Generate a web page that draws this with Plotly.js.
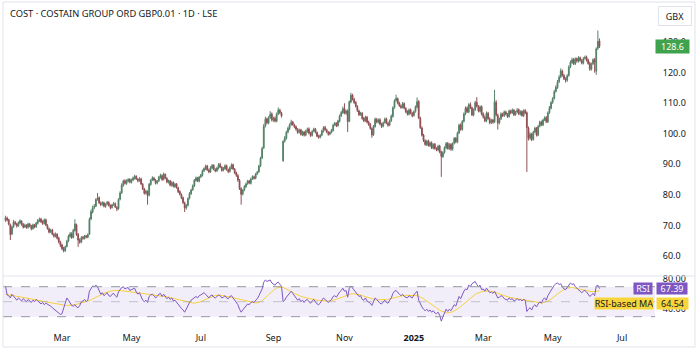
<!DOCTYPE html>
<html>
<head>
<meta charset="utf-8">
<script src="https://cdn.plot.ly/plotly-3.0.1.min.js"></script>
<style>html,body{margin:0;padding:0;background:#fff;}#chart{width:700px;height:353px;}</style>
</head>
<body>
<div id="chart"></div>
<script>
// ---- data (daily bars, one per weekday starting at startDate) ----
const startDate = "2024-01-12";
const opens = [
71.6,72.4,71.9,70.2,67.2,69.6,71.0,70.5,69.9,70.8,71.4,70.3,69.5,70.0,
69.4,70.4,69.9,69.0,70.1,69.6,70.7,71.5,72.1,71.3,70.7,71.9,70.0,68.9,67.9,68.5,67.0,66.4,67.1,65.9,64.5,
63.6,62.5,61.7,63.1,64.9,66.4,67.3,66.1,68.3,70.2,67.1,65.3,64.6,66.1,65.7,66.6,66.1,67.1,72.1,74.4,75.9,
76.3,78.6,79.1,77.3,76.9,77.4,76.2,77.0,77.5,76.6,75.9,76.8,77.1,75.9,75.5,78.6,80.7,83.1,84.6,83.7,84.5,85.1,
84.1,84.9,85.4,86.1,85.1,84.7,85.2,83.5,81.9,80.6,81.1,79.9,83.4,84.9,85.5,84.8,83.9,84.6,85.7,86.3,85.1,86.7,85.4,
84.1,84.6,83.1,84.1,82.7,83.6,82.3,81.1,80.1,79.1,77.4,75.7,76.6,78.9,80.4,81.7,82.9,84.7,85.6,84.5,
85.9,86.4,87.9,88.5,89.5,88.1,87.6,88.8,89.7,88.3,87.9,88.7,90.0,89.1,88.1,88.6,89.6,88.2,87.7,88.8,89.9,88.4,87.3,
86.3,84.7,82.1,80.3,81.6,82.7,83.7,84.6,83.8,85.3,85.9,85.5,86.9,87.6,89.5,92.1,95.4,102.6,104.9,103.5,105.3,106.5,
104.4,105.1,104.1,106.6,107.7,106.8,91.2,97.6,98.5,100.6,101.7,103.0,103.9,102.9,102.3,101.4,100.5,101.3,99.7,100.6,99.5,
100.7,101.6,100.1,99.5,100.9,101.5,100.4,99.3,98.9,99.6,100.8,102.1,101.3,100.5,99.9,100.5,101.1,102.9,103.4,102.7,104.1,105.9,106.9,
108.3,106.7,107.4,104.1,110.4,112.7,111.3,110.3,108.9,107.5,106.3,106.7,105.1,104.3,105.4,103.9,103.1,101.7,99.7,102.4,104.7,
103.8,104.6,103.1,102.5,103.7,104.9,103.4,102.9,104.3,105.7,108.6,110.9,111.5,110.1,109.1,108.7,109.9,108.3,107.3,106.4,107.9,106.7,
106.0,107.3,108.7,110.6,105.1,101.9,99.6,97.7,96.4,97.7,96.1,97.1,95.3,96.6,95.1,94.7,96.0,94.1,92.5,93.9,95.4,96.9,95.1,
96.5,94.9,96.9,98.6,97.3,100.3,102.9,101.4,104.1,106.6,108.5,107.1,109.6,108.5,106.1,107.9,110.3,108.9,107.4,108.9,
106.5,105.4,104.3,106.7,104.9,103.7,104.5,103.9,110.3,106.1,103.6,104.9,106.4,106.0,107.1,106.3,105.7,107.4,106.9,107.7,106.3,
107.1,107.9,106.4,107.3,105.9,107.6,106.9,101.9,98.6,99.9,98.1,100.6,101.9,99.5,102.5,103.9,102.9,104.6,105.3,103.9,106.9,108.4,
110.3,111.6,113.9,115.1,117.1,118.6,120.5,119.1,117.9,117.5,119.1,121.9,123.3,124.3,122.9,124.6,123.7,124.9,123.9,123.1,124.7,125.1,
124.2,123.1,121.1,122.9,124.3,120.5,128.0,130.4
];
const highs = [
73.2,72.9,72.2,70.6,69.9,71.8,71.5,70.9,71.3,72.0,71.7,70.8,70.6,70.4,
70.9,70.8,70.2,70.6,70.5,71.2,72.1,72.6,72.5,71.7,72.3,72.2,70.4,69.3,68.9,68.9,67.6,67.7,67.5,66.3,65.0,
64.0,63.0,63.4,65.3,67.0,67.9,67.8,68.9,72.0,70.6,67.5,65.8,66.5,66.6,66.9,66.9,67.4,72.6,75.2,76.5,77.0,
78.9,80.6,79.5,77.8,77.9,77.8,77.3,78.0,77.9,76.9,77.1,77.7,77.5,76.3,78.9,81.2,83.8,85.0,85.1,85.1,85.5,85.4,
85.3,86.0,86.6,86.4,85.5,85.8,85.6,83.9,82.3,81.7,81.5,83.9,85.2,86.1,85.9,85.2,84.9,86.2,86.9,86.7,87.3,87.0,85.8,
85.0,84.9,84.5,84.4,83.9,83.9,82.7,81.5,80.5,79.4,77.8,77.0,79.2,80.9,82.0,83.4,85.2,86.0,85.9,86.2,
86.9,88.3,89.0,89.9,89.8,88.6,89.4,90.1,90.0,88.7,89.2,90.4,90.5,89.4,89.1,90.0,89.9,88.6,89.3,90.3,90.2,88.8,87.6,
86.8,85.2,82.5,81.9,83.2,84.0,84.9,84.9,85.6,86.4,86.3,87.2,87.9,89.9,92.5,95.8,103.2,105.6,105.3,105.8,107.4,107.0,
105.6,105.7,107.0,108.6,108.2,107.2,97.9,99.3,101.0,102.3,103.4,104.6,104.2,103.3,102.7,101.9,101.7,101.6,101.0,100.9,101.3,
102.0,102.1,100.6,101.2,102.0,101.9,100.8,99.7,99.9,101.4,102.5,102.6,101.7,100.9,100.8,101.6,103.3,103.9,103.8,104.6,106.3,107.5,108.9,
110.0,107.9,108.0,110.9,113.4,113.1,111.8,110.7,109.4,107.9,107.2,107.1,105.5,105.9,105.8,104.3,103.5,102.1,102.9,105.3,105.2,
105.0,105.1,103.6,104.0,105.3,105.3,103.9,104.7,106.3,109.0,111.3,112.8,111.9,110.5,109.6,110.4,110.3,108.7,107.7,108.3,108.3,107.2,
107.7,109.3,111.9,111.0,105.6,102.4,100.0,98.2,98.0,98.1,97.5,97.5,96.9,97.0,95.6,96.4,96.4,94.5,94.3,95.9,97.3,97.3,96.9,
97.0,97.2,98.9,98.9,100.7,103.3,103.4,104.5,107.0,109.0,108.9,110.0,110.3,108.9,108.3,110.8,112.0,109.4,109.3,109.3,
107.0,106.0,107.3,107.2,105.4,104.9,104.9,114.4,111.0,106.6,105.3,107.0,106.9,107.6,107.6,106.8,107.9,107.9,108.3,108.1,107.5,
108.4,108.3,107.7,107.7,108.0,108.1,107.3,102.4,100.5,100.3,101.0,102.3,102.2,102.9,104.3,104.3,104.9,105.7,105.8,107.3,109.1,110.7,
112.0,114.4,115.9,117.6,119.2,121.4,121.0,119.6,118.5,119.5,122.4,124.0,124.9,124.8,125.0,125.0,125.4,125.3,124.5,125.1,125.6,125.6,
124.6,123.6,123.3,124.7,124.8,128.3,133.8,131.2
];
const lows = [
71.2,71.3,70.0,65.2,66.8,69.2,70.1,69.3,69.6,70.5,69.9,69.0,69.2,68.9,
69.0,69.4,68.4,68.6,69.1,69.2,70.3,71.1,70.8,70.2,70.3,69.8,68.6,67.4,67.5,66.8,66.0,66.1,65.4,64.1,62.9,
61.9,61.2,61.3,62.8,64.5,66.0,65.6,65.8,68.0,66.6,63.0,64.0,64.2,65.3,65.4,65.8,65.8,66.9,71.7,73.9,75.3,
76.0,78.1,77.0,76.3,76.5,75.9,75.8,76.6,76.2,75.3,75.5,76.4,75.7,74.7,75.1,78.2,80.3,82.7,83.4,83.3,84.1,83.8,
83.7,84.5,85.0,84.9,84.1,84.3,83.2,81.6,80.1,80.1,76.8,79.5,83.0,84.5,84.5,83.4,83.5,84.2,85.3,84.6,84.7,85.1,83.8,
83.7,82.8,82.7,82.4,82.3,82.0,80.6,79.8,78.6,77.0,74.4,75.2,76.2,78.5,80.0,81.3,82.6,84.3,84.2,84.1,
85.5,86.0,87.5,88.1,87.8,87.1,87.2,88.4,88.0,87.4,87.5,88.3,88.8,87.6,87.7,88.2,87.9,87.1,87.3,88.4,88.1,86.8,85.9,
84.3,81.6,76.8,79.8,81.2,82.3,83.3,83.5,83.4,84.9,85.0,85.1,86.5,87.2,89.1,91.7,95.0,102.1,103.1,103.1,104.9,104.0,
103.9,103.7,103.8,106.1,106.4,105.3,90.8,97.1,98.1,100.1,101.2,102.6,102.6,101.8,101.0,100.0,100.1,99.4,99.3,99.1,99.2,
100.3,99.8,99.0,99.1,100.5,100.1,98.9,98.4,98.5,99.2,100.4,101.0,100.2,99.4,99.5,100.1,100.7,102.5,102.2,102.3,103.7,105.5,106.5,
106.4,106.2,100.6,103.8,110.0,110.9,109.8,108.6,107.1,105.8,105.9,104.6,103.8,103.9,103.4,102.6,101.3,98.7,99.3,102.0,103.4,
103.4,102.8,101.9,102.1,103.3,103.1,102.3,102.5,103.9,105.3,108.2,110.5,109.6,108.8,108.2,108.3,108.0,106.8,106.0,106.0,106.4,105.4,
105.6,106.9,108.3,104.8,101.6,99.1,97.3,96.1,96.0,95.8,95.7,95.0,94.9,94.8,94.3,94.3,93.6,85.9,92.1,93.5,95.0,94.8,94.7,
94.4,94.5,96.5,96.9,96.9,99.9,101.0,101.0,103.7,106.1,106.8,106.7,108.1,105.8,105.7,107.5,108.6,107.0,107.0,106.0,
105.0,103.8,103.8,104.6,103.1,103.2,103.3,103.5,105.7,101.4,103.1,104.5,105.5,105.5,106.0,105.2,105.3,106.4,106.5,105.8,105.9,
106.7,106.1,106.0,105.6,105.5,106.4,87.5,97.8,98.0,97.6,97.8,100.2,99.1,99.2,102.1,102.5,102.5,104.2,103.5,103.5,106.5,108.0,
109.8,111.2,113.5,114.7,116.6,118.2,118.7,117.6,116.8,117.0,118.7,121.5,122.9,122.5,122.5,123.3,123.3,123.6,122.7,122.7,124.3,123.6,
122.6,120.6,120.7,122.5,120.0,119.3,127.4,128.1
];
const closes = [
72.5,71.8,70.4,67.0,69.5,71.2,70.6,69.8,70.9,71.5,70.2,69.4,70.1,69.3,
70.5,69.8,68.9,70.2,69.5,70.8,71.6,72.0,71.2,70.6,71.8,70.1,69.0,67.8,68.4,67.1,66.5,67.2,65.8,64.6,63.5,
62.4,61.8,63.0,64.8,66.5,67.2,66.0,68.4,70.5,67.0,65.2,64.5,66.0,65.8,66.5,66.2,67.0,72.0,74.5,75.8,76.2,
78.5,79.0,77.4,76.8,77.5,76.3,76.9,77.6,76.5,75.8,76.7,77.2,76.0,75.4,78.5,80.6,83.2,84.5,83.8,84.6,85.0,84.2,
84.8,85.5,86.0,85.2,84.6,85.3,83.6,82.0,80.5,81.2,79.8,83.5,84.8,85.6,84.9,83.8,84.5,85.8,86.4,85.0,86.8,85.5,84.2,
84.5,83.2,84.0,82.8,83.5,82.4,81.0,80.2,79.0,77.5,75.8,76.5,78.8,80.5,81.6,83.0,84.8,85.5,84.6,85.8,
86.5,87.8,88.6,89.4,88.2,87.5,88.9,89.6,88.4,87.8,88.8,89.9,89.2,88.0,88.7,89.5,88.3,87.6,88.9,89.8,88.5,87.2,86.4,
84.8,82.0,80.2,81.5,82.8,83.6,84.5,83.9,85.2,86.0,85.4,86.8,87.5,89.4,92.0,95.2,102.5,104.8,103.6,105.2,106.4,104.5,
105.0,104.2,106.5,107.8,106.9,105.8,97.5,98.6,100.5,101.8,102.9,103.8,103.0,102.2,101.5,100.4,101.2,99.8,100.5,99.6,100.8,
101.5,100.2,99.4,100.8,101.6,100.5,99.2,98.8,99.5,100.9,102.0,101.4,100.6,99.8,100.4,101.2,102.8,103.5,102.6,104.2,105.8,107.0,108.2,
106.8,107.5,104.0,110.5,112.6,111.4,110.2,109.0,107.6,106.2,106.8,105.0,104.2,105.5,103.8,103.0,101.8,99.6,102.5,104.8,103.9,
104.5,103.2,102.4,103.6,104.8,103.5,102.8,104.2,105.8,108.5,110.8,111.6,110.0,109.2,108.6,109.8,108.4,107.2,106.5,107.8,106.8,105.9,
107.2,108.8,110.5,105.2,102.0,99.5,97.8,96.5,97.6,96.2,97.0,95.4,96.5,95.2,94.8,95.9,94.0,92.6,93.8,95.5,96.8,95.2,96.4,
95.0,96.8,98.5,97.4,100.2,102.8,101.5,104.0,106.5,108.4,107.2,109.5,108.6,106.2,107.8,110.2,109.0,107.5,108.8,106.4,
105.5,104.2,106.8,105.0,103.6,104.4,103.8,110.5,106.2,103.5,104.8,106.5,105.9,107.2,106.4,105.6,107.5,106.8,107.8,106.2,107.0,
107.8,106.5,107.2,106.0,107.5,106.8,102.0,98.5,99.8,98.2,100.5,101.8,99.6,102.4,103.8,103.0,104.5,105.2,104.0,106.8,108.5,110.2,
111.5,113.8,115.2,117.0,118.5,120.6,119.2,118.0,117.6,119.0,121.8,123.4,124.2,123.0,124.5,123.8,124.8,124.0,123.2,124.6,125.0,124.1,
123.0,121.2,122.8,124.2,123.5,127.8,130.2,128.6
];
const rsi = [
71,59,58,55,60,57,54,52,55,53,51,54,52,50,
53,51,49,52,50,53,51,48,47,49,46,48,47,45,44,42,40,38,36,35,33,
34,42,50,55,52,48,45,44,46,43,42,45,50,51,53,50,52,64,68,71,70,
72,70,64,60,62,58,60,62,58,57,60,61,58,56,63,66,69,70,67,68,69,65,
66,67,68,63,60,62,56,52,50,52,49,57,59,60,58,55,57,60,61,57,60,57,54,
56,53,55,51,52,49,46,44,41,39,36,40,45,49,52,54,56,57,55,58,
59,61,62,60,57,55,58,59,56,55,57,59,58,55,56,58,55,54,57,58,55,52,50,
46,40,36,39,42,45,47,46,49,50,49,52,54,58,63,67,76,79,77,78,79,75,
74,72,75,76,73,71,50,52,56,59,62,64,61,58,55,52,54,50,52,49,52,
53,50,48,51,53,50,47,46,48,52,55,53,51,49,51,53,57,58,56,60,63,65,68,
64,65,56,68,71,68,65,62,60,57,58,53,52,55,51,50,48,45,50,55,53,
50,48,47,50,52,49,48,52,55,61,64,65,62,60,58,60,57,56,55,58,56,55,
59,62,64,52,47,43,40,38,40,37,39,36,38,35,34,36,32,24,30,36,40,37,40,
38,42,46,44,52,57,54,60,64,67,66,72,70,74,76,77,73,70,72,66,
67,64,68,65,62,63,61,64,60,55,56,58,57,54,53,52,55,53,54,51,52,
54,52,53,51,53,52,37,40,42,39,44,46,43,47,50,48,53,55,52,58,62,66,
70,72,74,75,73,74,70,67,66,69,72,75,73,74,70,68,66,63,62,64,65,63,
60,57,59,61,58,71,72,67.39
];
const rsiMa = [
60,59.6,59.2,58.8,58.3,57.8,57.2,56.6,56,55.5,55,54.6,54.2,53.8,
53.5,53.2,52.9,52.6,52.3,52,51.7,51.3,50.9,50.5,50.1,49.7,49.3,48.9,48.5,48,47.6,47.2,46.8,46.4,46,
45.6,45.3,45.1,45,45,45.1,45.3,45.6,46,46.5,47,47.5,48,48.6,49.2,49.8,50.5,51.4,52.5,53.7,55,
56.2,57.4,58.5,59.5,60.4,61.2,62,62.8,63.5,64,64.5,64.8,65,65,64.9,64.8,64.6,64.4,64.2,64,63.7,63.4,
63.1,62.8,62.5,62.2,61.9,61.6,61.2,60.8,60.4,60,59.6,59.3,59,58.8,58.6,58.4,58.2,58,57.8,57.5,57.2,56.8,56.4,
56,55.5,55,54.4,53.8,53.2,52.6,52,51.4,50.8,50.2,49.6,49.1,48.7,48.4,48.2,48.2,48.4,48.8,49.4,
50.2,51.2,52.3,53.4,54.5,55.5,56.4,57.2,57.8,58.2,58.5,58.6,58.6,58.4,58.1,57.7,57.2,56.7,56.2,55.7,55.2,54.7,54.2,
53.6,53,52.4,51.8,51.2,50.6,50.1,49.6,49.2,48.8,48.5,48.4,48.6,49.2,50.2,51.5,53.2,55.2,57.4,59.6,61.8,63.8,
65.5,67,68.2,69,69.5,69.8,69.2,68.2,67,65.8,64.6,63.4,62.2,61,59.8,58.8,57.9,57.1,56.4,55.8,55.2,
54.7,54.2,53.7,53.2,52.8,52.4,52,51.7,51.4,51.1,51,50.9,50.9,51,51.2,51.5,52,52.6,53.3,54.1,55,56,57,
58,58.8,59.4,60,60.4,60.6,60.6,60.4,60,59.4,58.7,58,57.2,56.4,55.6,54.9,54.2,53.6,53.1,52.7,52.5,
52.4,52.3,52.3,52.4,52.6,52.9,53.3,53.8,54.4,55.1,55.8,56.5,57.1,57.6,58,58.3,58.5,58.6,58.6,58.5,58.4,58.3,
58.2,58.1,58,57.4,56.5,55.3,53.9,52.4,50.8,49.1,47.4,45.7,44.1,42.6,41.2,39.9,38.7,37.6,36.6,35.8,35.3,35.2,35.4,
35.9,36.6,37.6,38.8,40.2,41.8,43.5,45.3,47.2,49.2,51.2,53.2,55,56.8,58.4,59.8,61,62,62.8,63.4,
63.9,64.2,64.4,64.4,64.2,63.8,63.3,62.7,62,61.2,60.3,59.4,58.5,57.7,57,56.4,55.9,55.5,55.1,54.8,54.5,
54.2,53.9,53.6,53.3,53,52.7,52.2,51.6,51,50.4,49.8,49.3,48.9,48.6,48.4,48.4,48.6,49.1,49.8,50.8,52,53.4,
55,56.8,58.6,60.4,62.1,63.7,65.1,66.3,67.3,68.1,68.6,68.9,68.9,68.7,68.3,67.8,67.2,66.6,66,65.4,64.8,64.3,
63.9,63.6,63.4,63.4,63.5,63.9,64.3,64.54
];
const tickDates = ["2024-03-01","2024-05-01","2024-07-01","2024-09-02","2024-11-01","2025-01-01","2025-03-03","2025-05-01","2025-07-01"];
const tickLabels = ["Mar","May","Jul","Sep","Nov","<b>2025</b>","Mar","May","Jul"];
const priceTicks = [60,70,80,90,100,110,120,130];
const rsiTicks = [40,80];
const titleText = "COST · COSTAIN GROUP ORD GBP0.01 · 1D · LSE";

// ---- build weekday dates ----
function weekdays(start, n) {
  const out = [];
  const d = new Date(start + "T00:00:00Z");
  while (out.length < n) {
    const w = d.getUTCDay();
    if (w !== 0 && w !== 6) out.push(d.toISOString().slice(0, 10));
    d.setUTCDate(d.getUTCDate() + 1);
  }
  return out;
}
const dates = weekdays(startDate, closes.length);
const lastClose = closes[closes.length - 1];
const lastRsi = rsi[rsi.length - 1];
const lastMa = rsiMa[rsiMa.length - 1];

// pixel helpers for the 700x353 page (plot area x 3..655, y 2..325)
const PL = 3, PR = 655, PT = 2, PB = 325;
const px = x => (x - PL) / (PR - PL);
const py = y => (PB - y) / (PB - PT);
const FONT = "Noto Sans, DejaVu Sans, sans-serif";
const TXT = "#131722";

const traces = [
  {
    type: "candlestick", x: dates, open: opens, high: highs, low: lows, close: closes,
    xaxis: "x", yaxis: "y",
    increasing: { fillcolor: "#245c3b", line: { color: "#56836a", width: 1 } },
    decreasing: { fillcolor: "#7d1a1f", line: { color: "#935055", width: 1 } },
    hoverinfo: "skip", showlegend: false
  },
  {
    type: "scatter", mode: "lines", x: dates, y: rsiMa, xaxis: "x", yaxis: "y2",
    line: { color: "#f7d13a", width: 1 }, hoverinfo: "skip", showlegend: false
  },
  {
    type: "scatter", mode: "lines", x: dates, y: rsi, xaxis: "x", yaxis: "y2",
    line: { color: "#7e57c2", width: 1 }, hoverinfo: "skip", showlegend: false
  }
];

const layout = {
  width: 700, height: 353,
  margin: { l: PL, r: 700 - PR, t: PT, b: 353 - PB },
  paper_bgcolor: "#ffffff", plot_bgcolor: "#ffffff",
  font: { family: FONT, size: 9, color: TXT },
  showlegend: false,
  xaxis: {
    type: "date", anchor: "y2",
    range: ["2024-01-10 10:48", "2025-07-29 09:36"],
    rangebreaks: [{ bounds: ["sat", "mon"] }],
    rangeslider: { visible: false },
    tickmode: "array", tickvals: tickDates, ticktext: tickLabels,
    tickfont: { family: FONT, size: 9, color: TXT },
    showgrid: false, zeroline: false, showline: false,
    ticks: "outside", ticklen: 4, tickcolor: "rgba(0,0,0,0)",
    fixedrange: true
  },
  yaxis: {
    domain: [py(276), 1], range: [53.45, 143.14], side: "right", anchor: "x",
    tickmode: "array", tickvals: priceTicks, tickformat: ".1f",
    tickfont: { family: FONT, size: 9, color: TXT },
    showgrid: false, zeroline: false, showline: false,
    ticks: "outside", ticklen: 5, tickcolor: "rgba(0,0,0,0)", fixedrange: true
  },
  yaxis2: {
    domain: [0, py(276)], range: [18.9, 84.3], side: "right", anchor: "x",
    tickmode: "array", tickvals: rsiTicks, tickformat: ".2f",
    tickfont: { family: FONT, size: 9, color: TXT },
    showgrid: false, zeroline: false, showline: false,
    ticks: "outside", ticklen: 5, tickcolor: "rgba(0,0,0,0)", fixedrange: true
  },
  shapes: [
    { type: "rect", xref: "paper", yref: "y2", x0: 0, x1: 1, y0: 30, y1: 70,
      fillcolor: "rgba(126,87,194,0.1)", line: { width: 0 }, layer: "below" },
    { type: "line", xref: "paper", yref: "y2", x0: 0, x1: 1, y0: 70, y1: 70,
      line: { color: "#9598a1", width: 1, dash: "dash" } },
    { type: "line", xref: "paper", yref: "y2", x0: 0, x1: 1, y0: 50, y1: 50,
      line: { color: "rgba(149,152,161,0.5)", width: 1, dash: "dash" } },
    { type: "line", xref: "paper", yref: "y2", x0: 0, x1: 1, y0: 30, y1: 30,
      line: { color: "#9598a1", width: 1, dash: "dash" } },
    { type: "line", xref: "paper", yref: "paper", x0: 0, x1: px(695), y0: py(276), y1: py(276),
      line: { color: "#e0e3eb", width: 1 } },
    { type: "rect", xref: "paper", yref: "paper", x0: 0, x1: px(695), y0: py(347), y1: 1,
      line: { color: "#e0e3eb", width: 1 } }
  ],
  annotations: [
    { xref: "paper", yref: "paper", x: px(8), y: py(14), xanchor: "left", yanchor: "middle",
      text: titleText, showarrow: false, font: { family: FONT, size: 9.3, color: TXT } },
    { xref: "paper", yref: "paper", x: px(675), y: py(16), xanchor: "center", yanchor: "middle",
      text: "GBX", showarrow: false, width: 30, height: 16, borderpad: 1,
      bordercolor: "#e0e3eb", borderwidth: 1, bgcolor: "#ffffff",
      font: { family: FONT, size: 9, color: TXT } },
    { xref: "paper", yref: "y", x: 1, y: lastClose, xanchor: "left", yanchor: "middle",
      text: lastClose.toFixed(1), showarrow: false, width: 33, height: 13, borderpad: 0,
      bgcolor: "#3fa34d", font: { family: FONT, size: 9, color: "#ffffff" } },
    { xref: "paper", yref: "paper", x: px(653), y: py(288), xanchor: "right", yanchor: "middle",
      text: "RSI", showarrow: false, width: 18, height: 11, borderpad: 0,
      bgcolor: "#7e57c2", font: { family: FONT, size: 9, color: "#ffffff" } },
    { xref: "paper", yref: "paper", x: px(656), y: py(288), xanchor: "left", yanchor: "middle",
      text: lastRsi.toFixed(2), showarrow: false, width: 30, height: 11, borderpad: 0,
      bgcolor: "#7e57c2", font: { family: FONT, size: 9, color: "#ffffff" } },
    { xref: "paper", yref: "paper", x: px(654), y: py(303), xanchor: "right", yanchor: "middle",
      text: "RSI-based MA", showarrow: false, width: 58, height: 11, borderpad: 0,
      bgcolor: "#f9d53c", font: { family: FONT, size: 9, color: TXT } },
    { xref: "paper", yref: "paper", x: px(656), y: py(303), xanchor: "left", yanchor: "middle",
      text: lastMa.toFixed(2), showarrow: false, width: 31, height: 11, borderpad: 0,
      bgcolor: "#f9d53c", font: { family: FONT, size: 9, color: TXT } }
  ]
};

Plotly.newPlot("chart", traces, layout, { displayModeBar: false, staticPlot: true });
</script>
</body>
</html>
